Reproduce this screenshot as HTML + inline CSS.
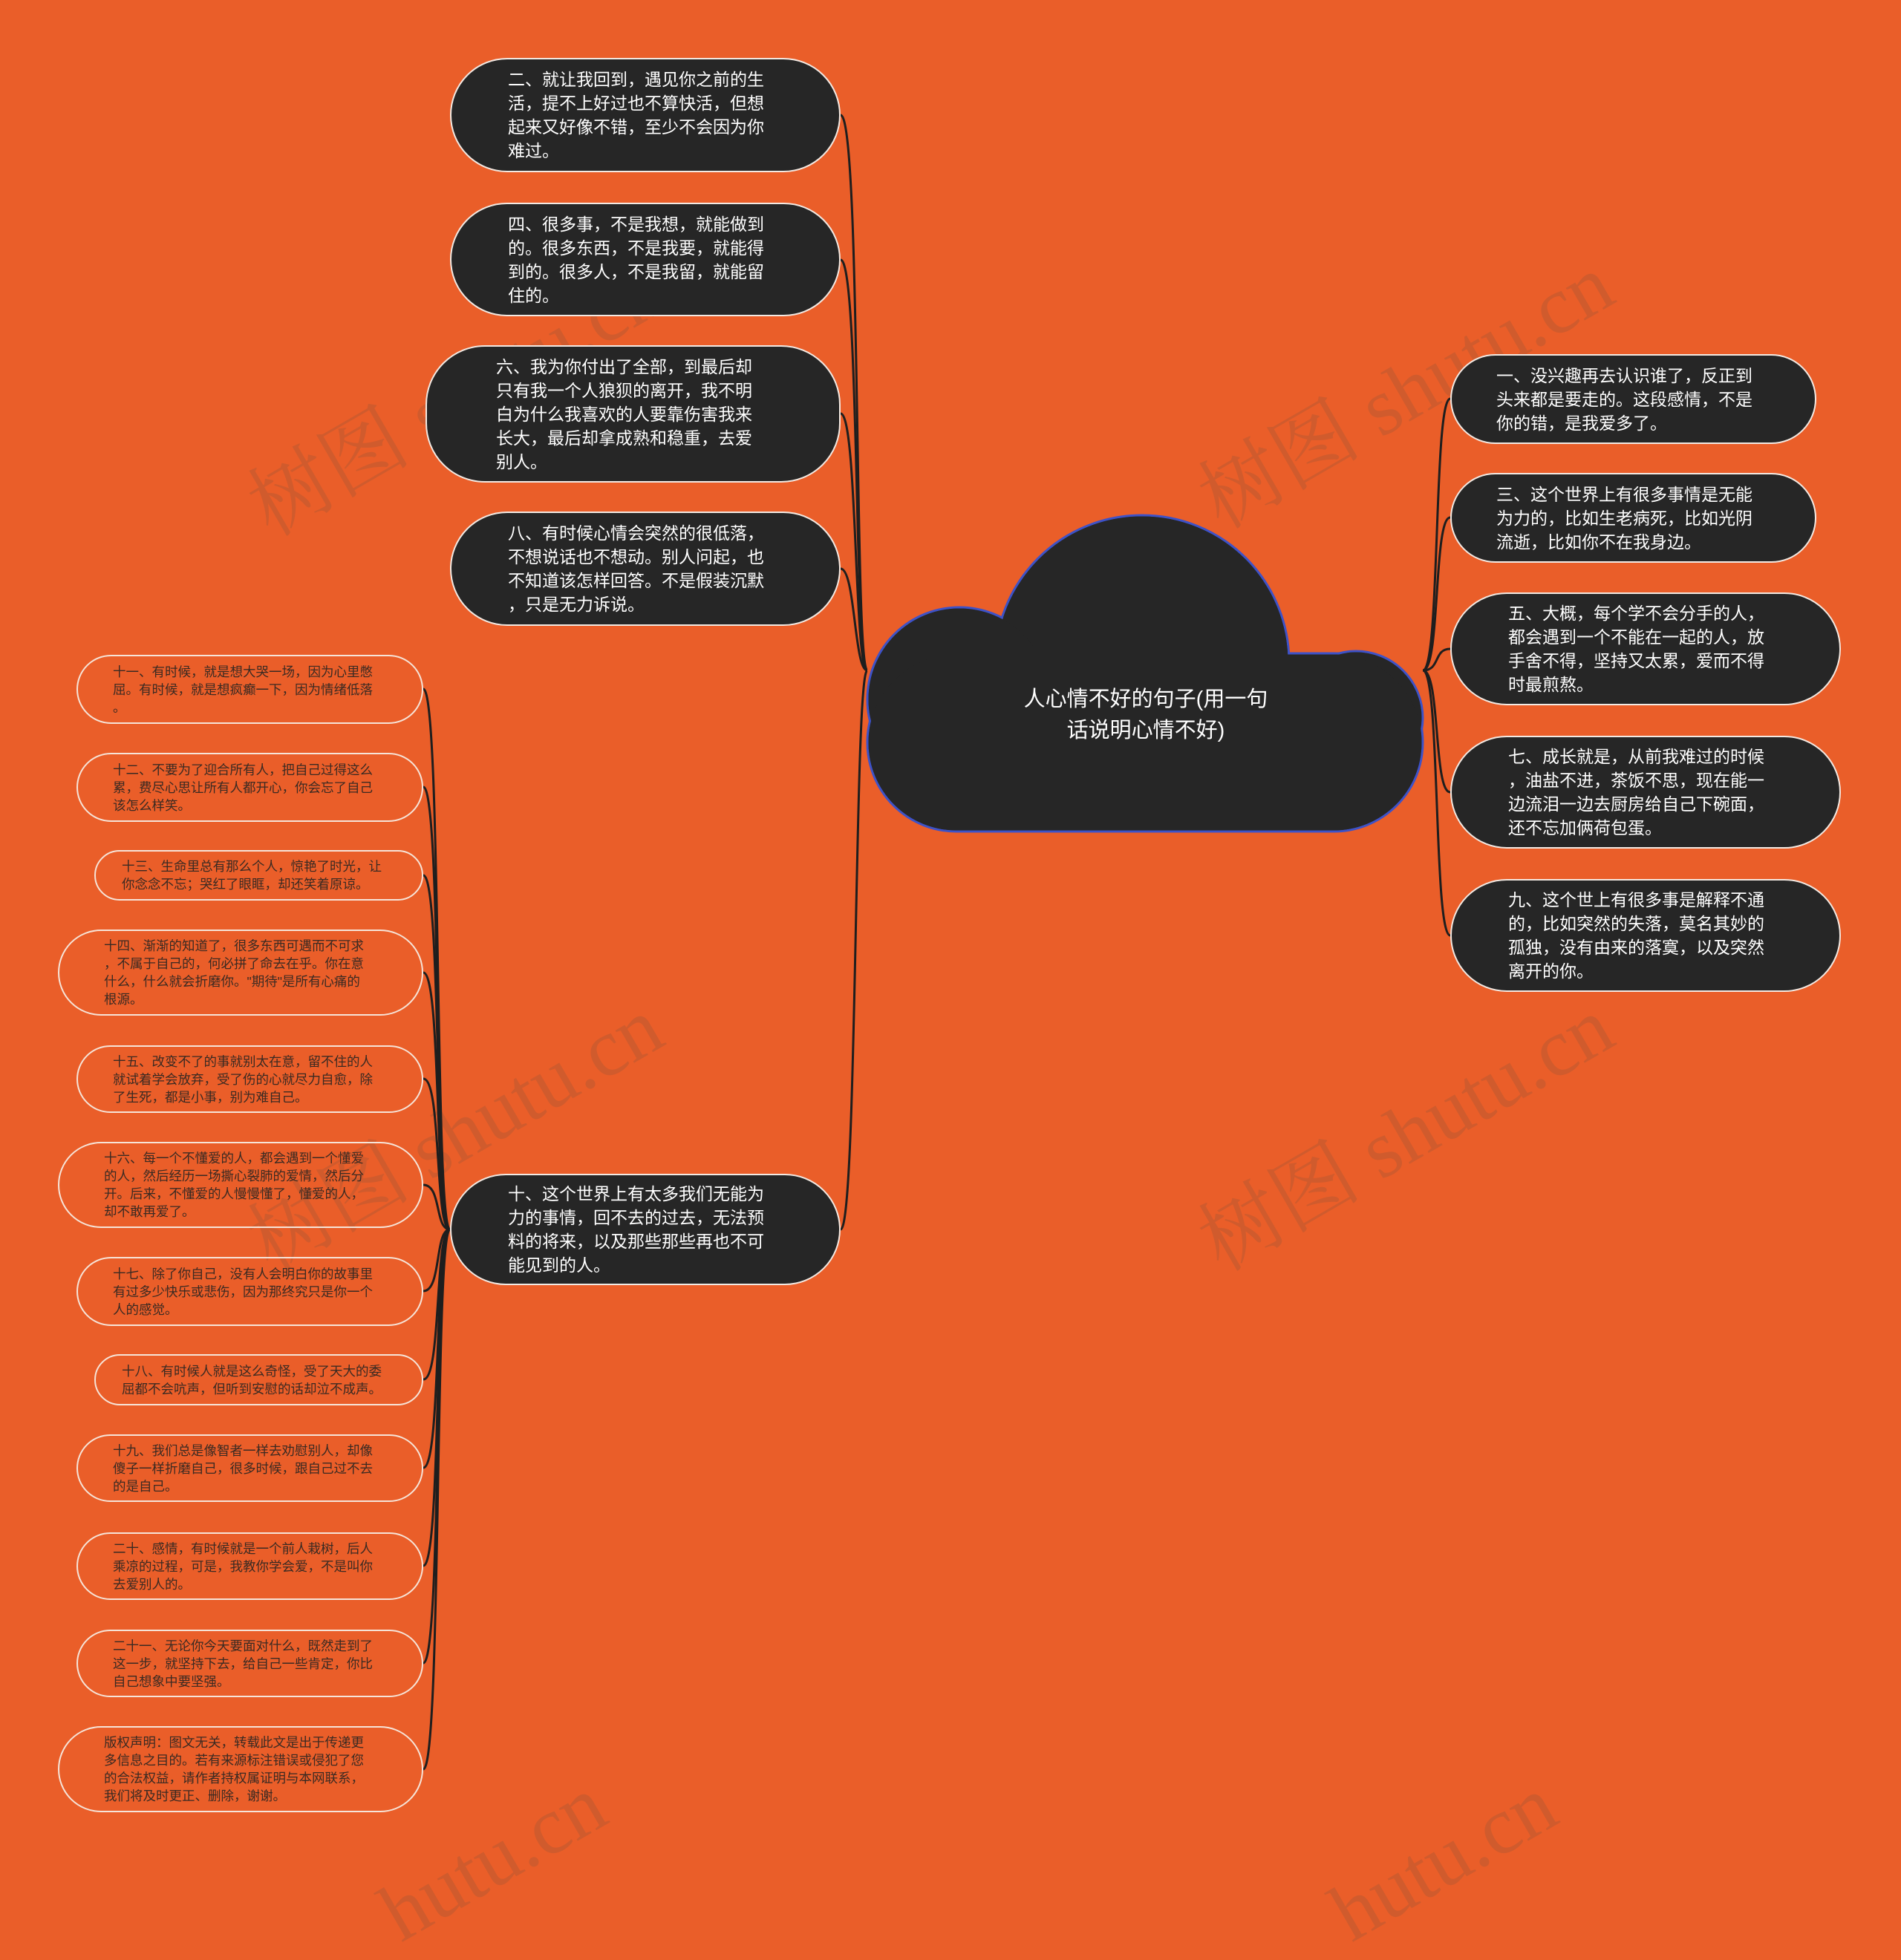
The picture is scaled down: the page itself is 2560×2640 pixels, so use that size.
<!DOCTYPE html>
<html><head><meta charset="utf-8"><style>
html,body{margin:0;padding:0}
body{width:2560px;height:2523px;background:#EA5E29;position:relative;overflow:hidden;font-family:"Liberation Sans","Noto Sans CJK SC",sans-serif}
.n{position:absolute;box-sizing:border-box;display:flex;align-items:center;white-space:nowrap}
.d{background:#262626;border:2px solid #f3e9e2;border-radius:80px;color:#fff;font-size:23px;line-height:32px}
.s{border:2px solid #f6e4d8;border-radius:60px;color:#3a2a22;font-size:17.5px;line-height:24px}
.wm{position:absolute;color:rgba(120,80,60,0.22);font-size:110px;font-family:"Liberation Serif","Noto Serif CJK SC",serif;transform:rotate(-30deg);white-space:nowrap}
svg{position:absolute;left:0;top:0}
</style></head><body>
<div class="wm" style="left:300px;top:450px">树图 shutu.cn</div>
<div class="wm" style="left:1580px;top:440px">树图 shutu.cn</div>
<div class="wm" style="left:300px;top:1440px">树图 shutu.cn</div>
<div class="wm" style="left:1580px;top:1440px">树图 shutu.cn</div>
<div class="wm" style="left:500px;top:2440px">hutu.cn</div>
<div class="wm" style="left:1780px;top:2440px">hutu.cn</div>
<svg width="2560" height="2523" viewBox="0 0 2560 2523">
<g fill="none" stroke="#1e1e1e" stroke-width="3">
<path d="M1132 155 C1160 155 1150 903 1168 903"/>
<path d="M1132 350 C1158 350 1150 903 1168 903"/>
<path d="M1132 557 C1155 557 1150 903 1168 903"/>
<path d="M1132 766 C1152 766 1150 903 1168 903"/>
<path d="M1132 1656 C1155 1656 1150 903 1168 903"/>
<path d="M1916 903 C1940 903 1930 537 1953 537"/>
<path d="M1916 903 C1940 903 1930 697 1953 697"/>
<path d="M1916 903 C1940 903 1930 874 1953 874"/>
<path d="M1916 903 C1940 903 1930 1067 1953 1067"/>
<path d="M1916 903 C1940 903 1930 1260 1953 1260"/>
<path d="M570 928 C595 928 585 1656 606 1656"/>
<path d="M570 1060 C595 1060 585 1656 606 1656"/>
<path d="M570 1179 C595 1179 585 1656 606 1656"/>
<path d="M570 1310 C595 1310 585 1656 606 1656"/>
<path d="M570 1453 C595 1453 585 1656 606 1656"/>
<path d="M570 1596 C595 1596 585 1656 606 1656"/>
<path d="M570 1739 C595 1739 585 1656 606 1656"/>
<path d="M570 1858 C595 1858 585 1656 606 1656"/>
<path d="M570 1977 C595 1977 585 1656 606 1656"/>
<path d="M570 2109 C595 2109 585 1656 606 1656"/>
<path d="M570 2240 C595 2240 585 1656 606 1656"/>
<path d="M570 2383 C595 2383 585 1656 606 1656"/>
</g>
<g fill="#262626" stroke="#3d52c8" stroke-width="3">
<circle cx="1538" cy="892" r="198"/>
<circle cx="1292" cy="942" r="124"/>
<circle cx="1826" cy="967" r="90"/>
<rect x="1168" y="880" width="748" height="240" rx="120"/>
</g>
<g fill="#262626">
<circle cx="1538" cy="892" r="196.5"/>
<circle cx="1292" cy="942" r="122.5"/>
<circle cx="1826" cy="967" r="88.5"/>
<rect x="1169.5" y="881.5" width="745" height="237" rx="118.5"/>
</g>
<text x="1543" y="951" fill="#fff" font-size="29" text-anchor="middle" font-family="Liberation Sans, Noto Sans CJK SC, sans-serif">人心情不好的句子(用一句</text>
<text x="1543" y="993" fill="#fff" font-size="29" text-anchor="middle" font-family="Liberation Sans, Noto Sans CJK SC, sans-serif">话说明心情不好)</text>
</svg>

<div class="n d" style="left:606px;top:78px;width:526px;height:154px;padding-left:76px">二、就让我回到，遇见你之前的生<br>活，提不上好过也不算快活，但想<br>起来又好像不错，至少不会因为你<br>难过。</div>
<div class="n d" style="left:606px;top:273px;width:526px;height:153px;padding-left:76px">四、很多事，不是我想，就能做到<br>的。很多东西，不是我要，就能得<br>到的。很多人，不是我留，就能留<br>住的。</div>
<div class="n d" style="left:573px;top:465px;width:559px;height:185px;padding-left:93px">六、我为你付出了全部，到最后却<br>只有我一个人狼狈的离开，我不明<br>白为什么我喜欢的人要靠伤害我来<br>长大，最后却拿成熟和稳重，去爱<br>别人。</div>
<div class="n d" style="left:606px;top:689px;width:526px;height:154px;padding-left:76px">八、有时候心情会突然的很低落，<br>不想说话也不想动。别人问起，也<br>不知道该怎样回答。不是假装沉默<br>，只是无力诉说。</div>
<div class="n d" style="left:606px;top:1581px;width:526px;height:150px;padding-left:76px">十、这个世界上有太多我们无能为<br>力的事情，回不去的过去，无法预<br>料的将来，以及那些那些再也不可<br>能见到的人。</div>

<div class="n d" style="left:1953px;top:477px;width:493px;height:121px;padding-left:60px">一、没兴趣再去认识谁了，反正到<br>头来都是要走的。这段感情，不是<br>你的错，是我爱多了。</div>
<div class="n d" style="left:1953px;top:637px;width:493px;height:121px;padding-left:60px">三、这个世界上有很多事情是无能<br>为力的，比如生老病死，比如光阴<br>流逝，比如你不在我身边。</div>
<div class="n d" style="left:1953px;top:798px;width:526px;height:152px;padding-left:76px">五、大概，每个学不会分手的人，<br>都会遇到一个不能在一起的人，放<br>手舍不得，坚持又太累，爱而不得<br>时最煎熬。</div>
<div class="n d" style="left:1953px;top:991px;width:526px;height:152px;padding-left:76px">七、成长就是，从前我难过的时候<br>，油盐不进，茶饭不思，现在能一<br>边流泪一边去厨房给自己下碗面，<br>还不忘加俩荷包蛋。</div>
<div class="n d" style="left:1953px;top:1184px;width:526px;height:152px;padding-left:76px">九、这个世上有很多事是解释不通<br>的，比如突然的失落，莫名其妙的<br>孤独，没有由来的落寞，以及突然<br>离开的你。</div>

<div class="n s" style="left:103px;top:882px;width:467px;height:93px;padding-left:47px">十一、有时候，就是想大哭一场，因为心里憋<br>屈。有时候，就是想疯癫一下，因为情绪低落<br>。</div>
<div class="n s" style="left:103px;top:1014px;width:467px;height:93px;padding-left:47px">十二、不要为了迎合所有人，把自己过得这么<br>累，费尽心思让所有人都开心，你会忘了自己<br>该怎么样笑。</div>
<div class="n s" style="left:127px;top:1145px;width:443px;height:68px;padding-left:35px">十三、生命里总有那么个人，惊艳了时光，让<br>你念念不忘；哭红了眼眶，却还笑着原谅。</div>
<div class="n s" style="left:78px;top:1252px;width:492px;height:116px;padding-left:60px">十四、渐渐的知道了，很多东西可遇而不可求<br>，不属于自己的，何必拼了命去在乎。你在意<br>什么，什么就会折磨你。"期待"是所有心痛的<br>根源。</div>
<div class="n s" style="left:103px;top:1408px;width:467px;height:91px;padding-left:47px">十五、改变不了的事就别太在意，留不住的人<br>就试着学会放弃，受了伤的心就尽力自愈，除<br>了生死，都是小事，别为难自己。</div>
<div class="n s" style="left:78px;top:1538px;width:492px;height:116px;padding-left:60px">十六、每一个不懂爱的人，都会遇到一个懂爱<br>的人，然后经历一场撕心裂肺的爱情，然后分<br>开。后来，不懂爱的人慢慢懂了，懂爱的人，<br>却不敢再爱了。</div>
<div class="n s" style="left:103px;top:1693px;width:467px;height:93px;padding-left:47px">十七、除了你自己，没有人会明白你的故事里<br>有过多少快乐或悲伤，因为那终究只是你一个<br>人的感觉。</div>
<div class="n s" style="left:127px;top:1824px;width:443px;height:69px;padding-left:35px">十八、有时候人就是这么奇怪，受了天大的委<br>屈都不会吭声，但听到安慰的话却泣不成声。</div>
<div class="n s" style="left:103px;top:1932px;width:467px;height:91px;padding-left:47px">十九、我们总是像智者一样去劝慰别人，却像<br>傻子一样折磨自己，很多时候，跟自己过不去<br>的是自己。</div>
<div class="n s" style="left:103px;top:2064px;width:467px;height:91px;padding-left:47px">二十、感情，有时候就是一个前人栽树，后人<br>乘凉的过程，可是，我教你学会爱，不是叫你<br>去爱别人的。</div>
<div class="n s" style="left:103px;top:2195px;width:467px;height:91px;padding-left:47px">二十一、无论你今天要面对什么，既然走到了<br>这一步，就坚持下去，给自己一些肯定，你比<br>自己想象中要坚强。</div>
<div class="n s" style="left:78px;top:2325px;width:492px;height:116px;padding-left:60px">版权声明：图文无关，转载此文是出于传递更<br>多信息之目的。若有来源标注错误或侵犯了您<br>的合法权益，请作者持权属证明与本网联系，<br>我们将及时更正、删除，谢谢。</div>
</body></html>
